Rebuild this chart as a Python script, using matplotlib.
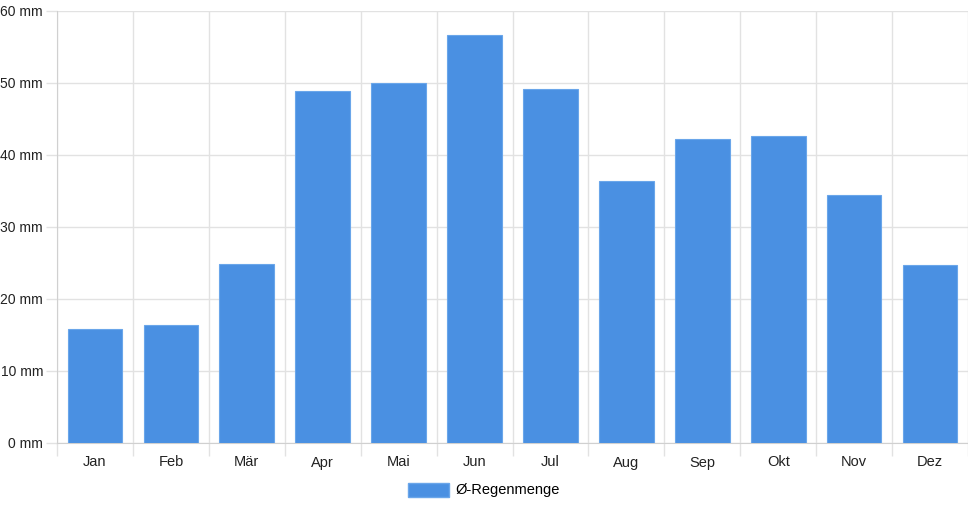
import matplotlib.pyplot as plt
from matplotlib.patches import Patch
from matplotlib.ticker import MultipleLocator, FuncFormatter

months = ['Jan', 'Feb', 'Mär', 'Apr', 'Mai', 'Jun', 'Jul', 'Aug', 'Sep', 'Okt', 'Nov', 'Dez']
rain_mm = [15.8, 16.4, 24.8, 48.9, 50.0, 56.6, 49.2, 36.4, 42.2, 42.6, 34.4, 24.7]
series_label = 'Ø-Regenmenge'

plt.rcParams['font.family'] = ['Liberation Sans', 'DejaVu Sans']
bar_color = '#4a90e2'
grid_color = '#e2e2e2'

fig = plt.figure(figsize=(9.68, 5.08), dpi=100)
ax = fig.add_axes([57 / 968, 65 / 508, 911 / 968, 432 / 508])

x = list(range(len(months)))
ax.bar(x, rain_mm, width=0.72, color=bar_color, edgecolor='#6aa6ea', linewidth=0.8, zorder=3)

ax.set_xlim(-0.5, len(months) - 0.5)
ax.set_ylim(0, 60)
ax.yaxis.set_major_locator(MultipleLocator(10))
ax.yaxis.set_major_formatter(FuncFormatter(lambda v, p: f'{v:.0f} mm'))
ax.set_xticks(x)
ax.set_xticklabels(months)

# vertical grid between categories
ax.set_xticks([i - 0.5 for i in x] + [len(months) - 0.5], minor=True)
ax.grid(True, which='minor', axis='x', color=grid_color, linewidth=1, zorder=0)
ax.grid(True, which='major', axis='y', color=grid_color, linewidth=1, zorder=0)

ax.tick_params(axis='x', which='major', length=0, pad=9, labelsize=10.5, colors='#222222')
ax.tick_params(axis='x', which='minor', length=9, color=grid_color, width=1)
ax.tick_params(axis='y', length=8, color=grid_color, width=1, pad=2, labelsize=10, colors='#222222')

for side in ['top', 'right']:
    ax.spines[side].set_visible(False)
ax.spines['left'].set_color('#d0d0d0')
ax.spines['bottom'].set_color('#d0d0d0')

fig.legend(handles=[Patch(facecolor=bar_color, edgecolor='#6aa6ea', label=series_label)],
           loc='center', bbox_to_anchor=(0.5, 1 - 490 / 508), frameon=False,
           fontsize=10.5, handlelength=2.8, handleheight=1.1, handletextpad=0.5)

fig.savefig('out.png', dpi=100)
